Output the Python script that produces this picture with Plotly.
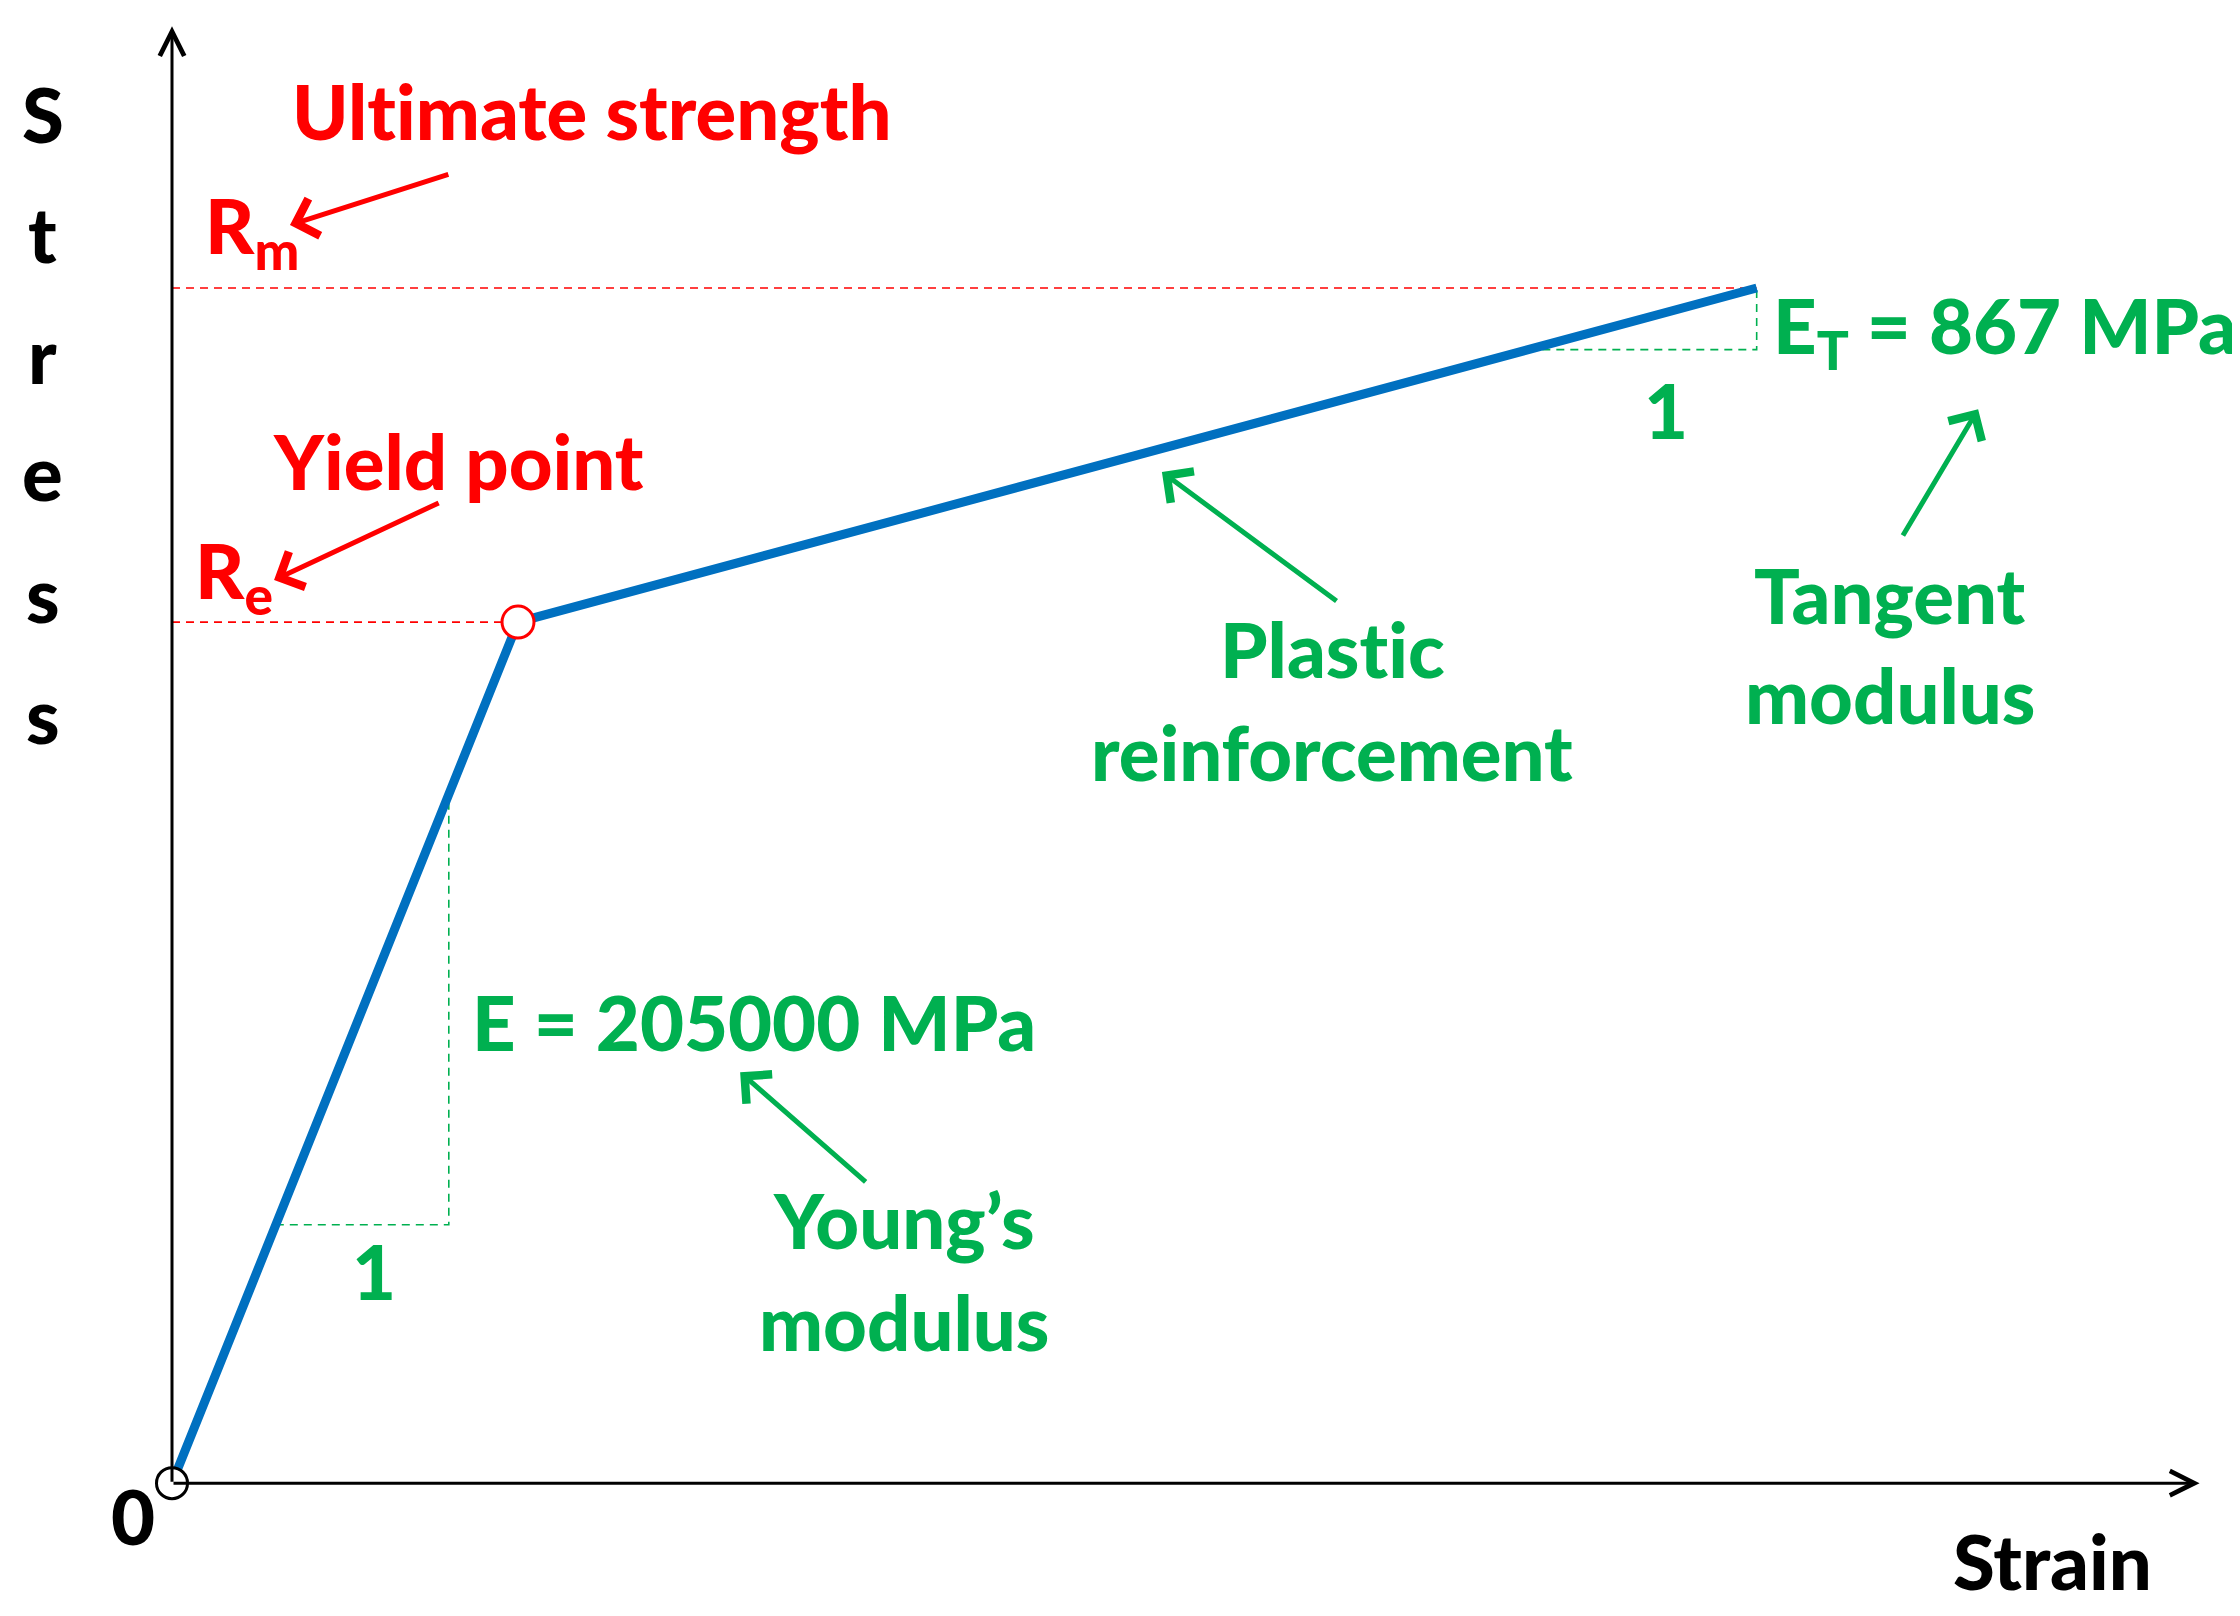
import numpy as np
import plotly.graph_objects as go

# schematic bilinear stress-strain curve (arbitrary units)
strain = [0.0, 1.0, 4.58]
stress = [0.0, 250.0, 347.0]

young_tri = [0.30, 0.80]      # strain span of the slope triangle on the elastic part
tangent_tri = [3.92, 4.58]    # strain span of the slope triangle on the plastic part

RED = "#FF0000"
GREEN = "#00B050"
BLUE = "#0070C0"
FONT = "Lato"
FS = 76
ZWNJ = "\u200c"  # keeps Lato from drawing the "ti" ligature

fig = go.Figure()

# dashed guides for Rm and Re
for i in (1, 2):
    fig.add_trace(go.Scatter(x=[0, strain[i]], y=[stress[i], stress[i]], mode="lines",
                             line=dict(color=RED, width=1.6, dash="8px,6px"), hoverinfo="skip"))

# slope triangles
for (a, b) in (young_tri, tangent_tri):
    ya = np.interp(a, strain, stress)
    yb = np.interp(b, strain, stress)
    fig.add_trace(go.Scatter(x=[a, b, b], y=[ya, ya, yb], mode="lines",
                             line=dict(color=GREEN, width=1.6, dash="8px,6px"), hoverinfo="skip"))

# the curve
fig.add_trace(go.Scatter(x=strain, y=stress, mode="lines",
                         line=dict(color=BLUE, width=9), hoverinfo="skip"))

x_end, y_end = 5.86, 423.0

# axes as arrows
fig.add_annotation(x=x_end, y=0, ax=0, ay=0, axref="x", ayref="y", text="", showarrow=True,
                   arrowhead=5, arrowsize=1.6, arrowwidth=3, arrowcolor="black", standoff=0)
fig.add_annotation(x=0, y=y_end, ax=0, ay=0, axref="x", ayref="y", text="", showarrow=True,
                   arrowhead=5, arrowsize=1.6, arrowwidth=3, arrowcolor="black", standoff=0)

# origin and yield markers
fig.add_trace(go.Scatter(x=[strain[0]], y=[stress[0]], mode="markers",
                         marker=dict(size=31, color="white", line=dict(color="black", width=3)),
                         hoverinfo="skip"))
fig.add_trace(go.Scatter(x=[strain[1]], y=[stress[1]], mode="markers",
                         marker=dict(size=32, color="white", line=dict(color=RED, width=3)),
                         hoverinfo="skip"))


def label(text, x, y, color, xanchor="center"):
    fig.add_annotation(x=x, y=y, text=text, showarrow=False, xanchor=xanchor, yanchor="middle",
                       font=dict(family=FONT, size=FS, color=color, weight=900))


def arrow(x, y, ax, ay, color):
    fig.add_annotation(x=x, y=y, ax=ax, ay=ay, axref="x", ayref="y", text="", showarrow=True,
                       arrowhead=4, arrowsize=1.5, arrowwidth=5, arrowcolor=color, standoff=0)


# axis titles
for letter, yy in zip("Stress", [397.8, 362.7, 327.8, 293.8, 258.4, 223.3]):
    label(letter, -0.373, yy, "black")
label("0", -0.113, -9.3, "black")
label("Strain", 5.434, -22.4, "black")

# red labels
label("Ul" + ZWNJ + "t" + ZWNJ + "imate strength", 1.211, 398.4, RED)
label("R<sub>m</sub>", 0.09, 363.8, RED, xanchor="left")
arrow(0.341, 365.3, 0.803, 380.1, RED)
label("Yield point", 0.827, 297.0, RED)
label("R<sub>e</sub>", 0.061, 263.7, RED, xanchor="left")
arrow(0.295, 262.2, 0.775, 284.8, RED)

# green labels
label("E = 205000 MPa", 0.861, 134.1, GREEN, xanchor="left")
label("1", 0.584, 61.8, GREEN)
arrow(1.642, 119.3, 2.009, 87.1, GREEN)
label("Young\u2019s", 2.116, 76.6, GREEN)
label("modulus", 2.116, 47.0, GREEN)

label("Plas" + ZWNJ + "t" + ZWNJ + "ic", 3.353, 242.4, GREEN)
label("reinforcement", 3.353, 212.5, GREEN)
arrow(2.861, 293.6, 3.37, 255.8, GREEN)

label("E<sub>T</sub> = 867 MPa", 4.622, 334.7, GREEN, xanchor="left")
label("1", 4.318, 311.8, GREEN)
arrow(5.22, 311.8, 5.0, 274.7, GREEN)
label("Tangent", 4.965, 258.1, GREEN)
label("modulus", 4.965, 229.1, GREEN)

fig.update_layout(
    width=2240, height=1616, autosize=False,
    margin=dict(l=0, r=0, t=0, b=0),
    paper_bgcolor="white", plot_bgcolor="white",
    showlegend=False,
    xaxis=dict(range=[-0.474, 6.0], visible=False),
    yaxis=dict(range=[-40.9, 428.3], visible=False),
)

fig.write_html("out.html")
